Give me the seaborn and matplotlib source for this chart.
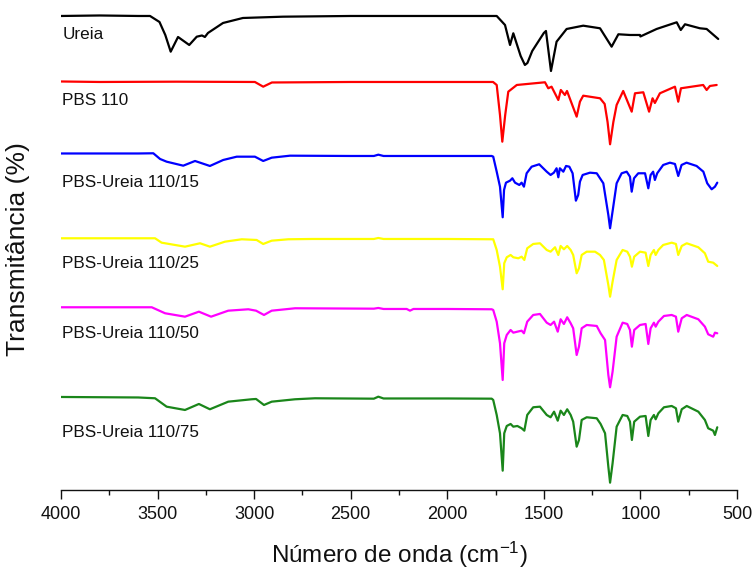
import matplotlib
matplotlib.use("Agg")
import matplotlib.pyplot as plt
from matplotlib.ticker import MultipleLocator
import pandas as pd
import seaborn as sns

# --- espectros FTIR: número de onda (cm-1) e transmitância (u.a.) ---
wn_ureia = [4000, 3800, 3600, 3539, 3490, 3460, 3432, 3394, 3336, 3297, 3270, 3255, 3239,
            3161, 3058, 2851, 2500, 2000, 1800, 1744, 1701, 1675, 1658, 1620, 1598, 1585,
            1560, 1529, 1500, 1489, 1463, 1434, 1382, 1296, 1209, 1149, 1114, 1054, 1002,
            1000, 916, 812, 791, 769, 692, 657, 597]
t_ureia = [100, 100.5, 100, 100, 94, 81, 64.3, 79, 71, 79.3, 80.5, 79, 83,
           93, 98, 99.3, 100, 100, 100, 100, 91, 71, 82.7, 60, 51, 53,
           65, 74.3, 83, 85, 45, 74.3, 87, 90.3, 87.7, 69.3, 81.7, 81, 81,
           79.5, 87, 93.7, 86, 91.7, 87.7, 87, 77]

wn_pbs = [4000, 3800, 3400, 3000, 2996, 2953, 2908, 2500, 2000, 1800, 1763, 1744, 1727,
          1715, 1700, 1684, 1640, 1494, 1477, 1460, 1425, 1412, 1391, 1380, 1330, 1313,
          1296, 1209, 1185, 1170, 1157, 1140, 1123, 1089, 1045, 1028, 985, 955, 937, 925,
          899, 821, 804, 790, 675, 657, 640, 605]
t_pbs = [100.5, 100, 100.3, 100, 100, 95.3, 99.5, 100, 100, 100, 100, 97, 67,
         40.3, 67, 90.3, 97, 99.7, 93.7, 95.3, 82, 92, 87, 91, 65.3, 80.3,
         86.3, 83.7, 78, 60, 37.7, 60, 77, 91, 70.3, 88.7, 89.7, 70.3, 83.7, 79,
         88.7, 95.3, 80.3, 93.7, 97, 92, 96, 97]

wn_15 = [4000, 3600, 3522, 3487, 3453, 3367, 3306, 3229, 3160, 3090, 2996, 2953, 2909,
         2814, 2500, 2380, 2357, 2330, 2000, 1770, 1762, 1744, 1727, 1713, 1706, 1696,
         1675, 1663, 1649, 1627, 1615, 1603, 1589, 1563, 1524, 1485, 1465, 1448, 1434,
         1425, 1417, 1399, 1385, 1368, 1351, 1334, 1322, 1313, 1299, 1261, 1226, 1209,
         1192, 1166, 1157, 1143, 1123, 1097, 1071, 1054, 1045, 1033, 1011, 976, 959,
         947, 934, 925, 913, 882, 847, 821, 804, 787, 761, 709, 674, 654, 631, 614, 602]
t_15 = [102.5, 102.5, 102.7, 97, 94.3, 90.3, 95, 90, 96, 99.3, 99.3, 95, 98.3,
        100.3, 100, 100, 101.3, 100, 100, 100, 99.3, 84.3, 69.3, 38.7, 66, 73.3,
        75.3, 77.7, 73.3, 71, 73.3, 69.3, 82.7, 89.3, 91.7, 84.3, 81, 83.3, 87.7,
        78.7, 87.7, 84.3, 90, 89.3, 82.7, 55.3, 61, 74.3, 81, 83.3, 82.7, 77.7,
        72.7, 41, 27.7, 46, 72.7, 82.7, 84.3, 79.3, 64.3, 77.7, 82.7, 82.7, 67.7,
        81, 84.3, 76, 82.7, 91, 93.3, 92, 80, 91, 93.3, 90, 84.3, 72.7, 66.7, 69.3, 73.3]

wn_25 = [4000, 3513, 3479, 3358, 3280, 3229, 3151, 3064, 2987, 2953, 2909, 2823, 2700,
         2380, 2357, 2330, 2000, 1770, 1762, 1744, 1727, 1713, 1705, 1692, 1672, 1658,
         1632, 1615, 1601, 1586, 1555, 1520, 1485, 1465, 1442, 1425, 1413, 1396, 1379,
         1361, 1348, 1330, 1318, 1304, 1278, 1235, 1209, 1189, 1166, 1157, 1144, 1123,
         1092, 1068, 1054, 1044, 1032, 1002, 973, 959, 947, 930, 921, 907, 882, 838,
         816, 804, 786, 760, 700, 666, 649, 623, 602]
t_25 = [100.7, 100.7, 96.3, 92.3, 95.7, 92.3, 97.3, 99.7, 99, 95, 98.3, 99.7, 100,
        100, 101, 100, 100, 99.7, 99.7, 89, 72.3, 49.7, 75.7, 81.7, 84, 81.7,
        80.7, 82.3, 79, 90.7, 95, 95.7, 89, 87.3, 91.7, 84, 93, 89.7, 93,
        89, 84, 65.7, 70.7, 84, 87.3, 87.3, 84, 79, 54, 42.3, 57.3, 79,
        89, 87.3, 82.3, 72.3, 82.3, 87.3, 86.3, 73, 84, 89, 84, 89, 94, 96.3,
        95, 84, 93, 95.7, 91.7, 85.7, 77.3, 76.3, 73]

wn_50 = [4000, 3530, 3461, 3358, 3286, 3223, 3134, 3030, 2990, 2949, 2909, 2788, 2380,
         2357, 2330, 2210, 2193, 2175, 2000, 1770, 1762, 1744, 1727, 1713, 1705, 1692,
         1672, 1658, 1637, 1615, 1603, 1586, 1555, 1520, 1485, 1465, 1447, 1428, 1413,
         1396, 1379, 1361, 1348, 1330, 1318, 1304, 1278, 1226, 1206, 1183, 1166, 1157,
         1144, 1123, 1092, 1068, 1054, 1044, 1032, 1002, 973, 959, 947, 930, 921, 907,
         878, 838, 816, 804, 786, 760, 700, 666, 649, 623, 614, 602]
t_50 = [101.7, 101.7, 95.7, 92.3, 97.3, 92.3, 98.3, 99.7, 98.3, 94, 98.3, 100.7, 100.3,
        101, 100, 100, 98.3, 100, 100, 99.7, 99, 87.3, 65.7, 29, 65.7, 74,
        79, 76.3, 77.3, 78.3, 75.7, 87.3, 94, 95, 86.3, 84, 87.3, 77.3, 89.7,
        85, 91.7, 85.7, 80.7, 54, 62.3, 80.7, 84, 83, 75.7, 69, 34, 21.7,
        37.3, 72.3, 86.3, 85, 79, 62.3, 79, 84, 85, 65, 80.7, 86.3, 82.3, 87.3,
        93, 94, 92.3, 77.3, 90.7, 94, 89.7, 82.3, 74.7, 72.3, 76.3, 75.7]

wn_75 = [4000, 3600, 3513, 3453, 3358, 3286, 3229, 3134, 3013, 2990, 2949, 2909, 2788,
         2685, 2380, 2357, 2330, 2000, 1770, 1762, 1744, 1727, 1713, 1705, 1692, 1672,
         1658, 1637, 1615, 1601, 1586, 1555, 1520, 1485, 1465, 1447, 1428, 1413, 1396,
         1379, 1361, 1348, 1330, 1318, 1304, 1278, 1226, 1206, 1183, 1166, 1157, 1144,
         1123, 1092, 1068, 1054, 1044, 1032, 1002, 973, 959, 947, 930, 921, 907, 878,
         838, 816, 804, 786, 760, 700, 666, 649, 623, 614, 602]
t_75 = [101, 100.5, 99.7, 91.3, 88, 94, 88.7, 96.3, 98.7, 99, 93, 96.3, 98.7,
        99.7, 99.3, 101.3, 99.5, 99.5, 99.3, 98, 83, 64.7, 27.3, 64.7, 72, 74,
        71.3, 72, 69.7, 67.3, 83, 90.7, 91.3, 83, 80.7, 86.3, 77.3, 87.3, 83,
        88.7, 83, 76.3, 51.3, 58, 78, 80.7, 79.7, 74, 64.7, 31.3, 15.3, 34.7,
        71.3, 83, 82, 76.3, 58, 76.3, 81.3, 82, 62, 78, 83, 78.7, 84.7, 90.7,
        92, 89.7, 76.3, 88.7, 92, 86.3, 78, 69.7, 67.3, 63, 70.7]

amostras = ['Ureia', 'PBS 110', 'PBS-Ureia 110/15', 'PBS-Ureia 110/25',
            'PBS-Ureia 110/50', 'PBS-Ureia 110/75']
espectros = [(wn_ureia, t_ureia), (wn_pbs, t_pbs), (wn_15, t_15),
             (wn_25, t_25), (wn_50, t_50), (wn_75, t_75)]
deslocamentos = [382, 316, 242, 159, 89, 0]  # empilhamento vertical das curvas
cores = ['#000000', '#ff0000', '#0000ff', '#ffff00', '#ff00ff', '#1a861a']

frames = []
for nome, (wn, t), d in zip(amostras, espectros, deslocamentos):
    frames.append(pd.DataFrame({'wn': wn, 'T': [v + d for v in t], 'amostra': nome}))
df = pd.concat(frames, ignore_index=True)

sns.set_style("white")
plt.rcParams['font.family'] = ['Liberation Sans', 'DejaVu Sans']
plt.rcParams['mathtext.default'] = 'regular'

fig = plt.figure(figsize=(7.53, 5.70), dpi=100)
ax = fig.add_axes([0.081, 0.1404, 0.8977, 0.8456])

sns.lineplot(data=df, x='wn', y='T', hue='amostra', hue_order=amostras,
             palette=cores, estimator=None, sort=False, legend=False,
             linewidth=1.6, ax=ax)

# rótulos de cada curva
gap_rotulo = [77, 77, 69, 71, 71, 61]
for nome, d, g in zip(amostras, deslocamentos, gap_rotulo):
    ax.text(3993, d + g, nome, fontsize=12.3, va='baseline', ha='left', color='#111111')

ax.set_xlim(4000, 500)
ax.set_ylim(8, 490)
ax.set_yticks([])
ax.xaxis.set_major_locator(MultipleLocator(500))
ax.xaxis.set_minor_locator(MultipleLocator(250))
ax.tick_params(axis='x', which='major', direction='out', length=6.5, width=1.0,
               labelsize=13, pad=5, bottom=True, colors='#111111')
ax.tick_params(axis='x', which='minor', direction='out', length=3.5, width=1.0,
               bottom=True, colors='#111111')
for s in ['left', 'right', 'top']:
    ax.spines[s].set_visible(False)
ax.spines['bottom'].set_linewidth(1.0)
ax.spines['bottom'].set_color('#111111')

ax.set_xlabel('Número de onda (cm$^{-1}$)', fontsize=17.5, labelpad=12, color='#111111')
ax.set_ylabel('Transmitância (%)', fontsize=19, labelpad=22, color='#111111')

fig.savefig('out.png', dpi=100)
